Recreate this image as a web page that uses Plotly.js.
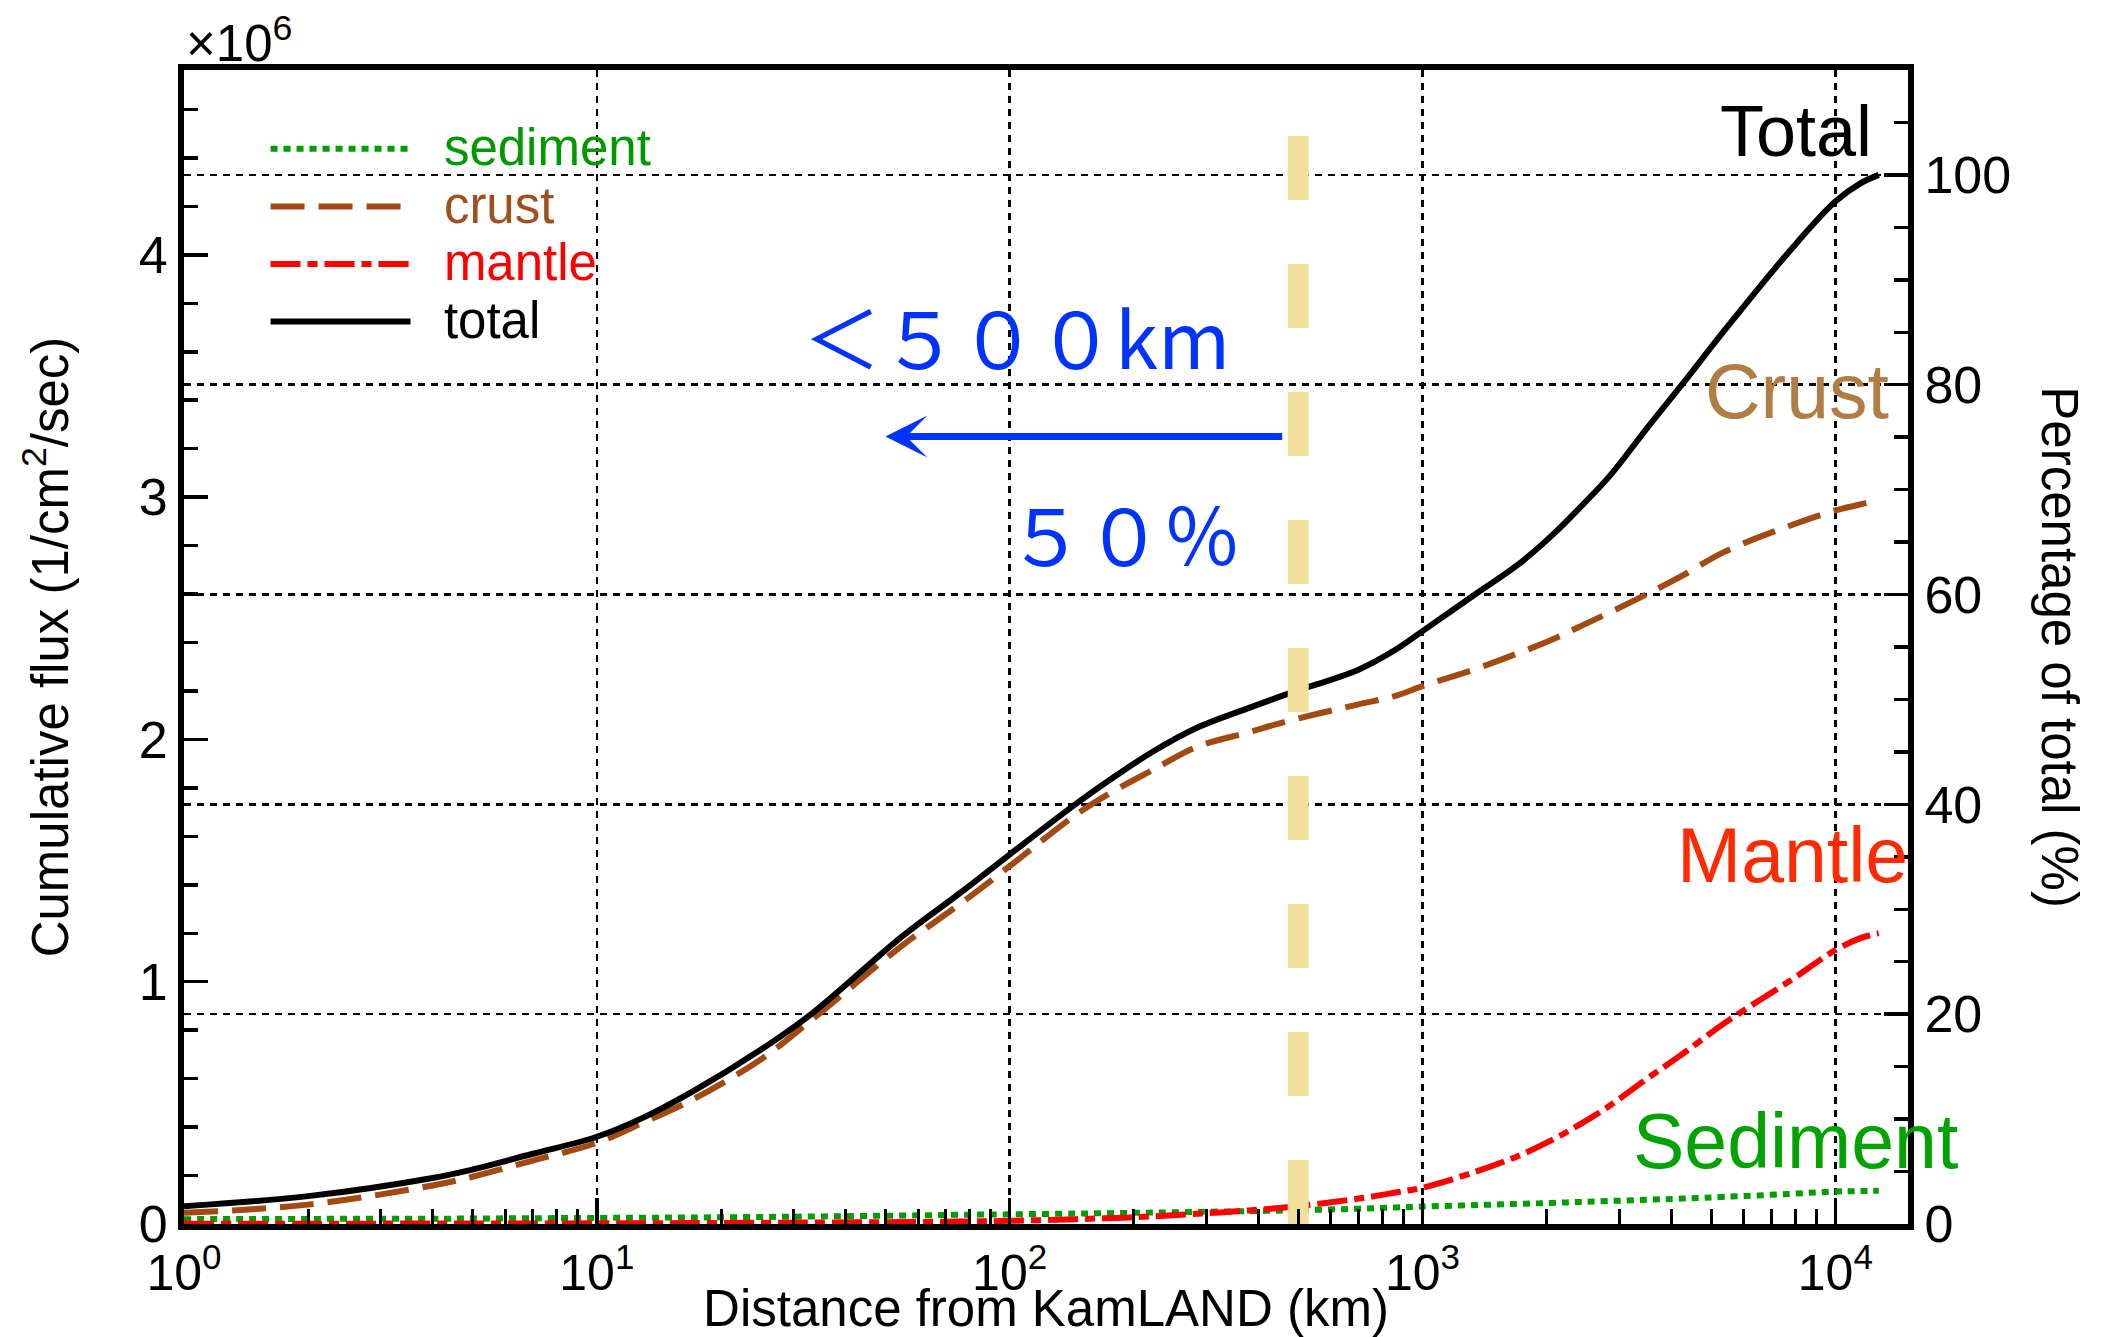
<!DOCTYPE html>
<html>
<head>
<meta charset="utf-8">
<script src="https://cdn.plot.ly/plotly-3.0.1.min.js"></script>
<style>
  html, body { margin: 0; padding: 0; background: #ffffff; }
  #chart { width: 2102px; height: 1337px; }
</style>
</head>
<body>
<div id="chart"></div>
<script>
// Distance from KamLAND (km)
const distance = [1, 2, 4, 5, 7, 10, 13, 17, 25, 33, 55, 75, 100, 145, 180, 220, 285, 380, 475, 700, 860, 1000, 1340, 1700, 2050, 2400, 2850, 3500, 4250, 5400, 7700, 10000, 11500, 12742];

// Cumulative flux (x10^6 1/cm^2/sec)
const sediment = [0.020, 0.021, 0.022, 0.0225, 0.024, 0.025, 0.026, 0.027, 0.029, 0.031, 0.035, 0.038, 0.040, 0.043, 0.045, 0.047, 0.050, 0.053, 0.056, 0.063, 0.068, 0.072, 0.078, 0.083, 0.087, 0.091, 0.095, 0.100, 0.105, 0.112, 0.124, 0.134, 0.136, 0.137];
const crust    = [0.046, 0.080, 0.159, 0.195, 0.262, 0.335, 0.420, 0.512, 0.680, 0.840, 1.150, 1.315, 1.477, 1.690, 1.790, 1.870, 1.970, 2.030, 2.077, 2.145, 2.180, 2.220, 2.290, 2.355, 2.410, 2.465, 2.525, 2.600, 2.675, 2.775, 2.880, 2.945, 2.970, 2.990];
const mantle   = [0.001, 0.001, 0.002, 0.002, 0.002, 0.003, 0.003, 0.004, 0.005, 0.006, 0.008, 0.010, 0.013, 0.020, 0.025, 0.031, 0.042, 0.056, 0.070, 0.105, 0.130, 0.150, 0.215, 0.280, 0.345, 0.410, 0.490, 0.600, 0.700, 0.830, 1.000, 1.130, 1.180, 1.200];
const total    = [0.073, 0.115, 0.190, 0.225, 0.290, 0.360, 0.440, 0.545, 0.720, 0.865, 1.188, 1.360, 1.525, 1.735, 1.848, 1.945, 2.049, 2.130, 2.190, 2.288, 2.370, 2.447, 2.598, 2.720, 2.839, 2.955, 3.090, 3.285, 3.464, 3.690, 4.010, 4.220, 4.295, 4.330];

const SCALE = 1e6;
const totalFlux = 4.33;            // x10^6, = 100 %
const percentMax = 110;            // right axis top
const cutDistance = 500;           // km, vertical marker
const cutTop = 4.50;               // x10^6
const arrowTip = 50;               // km
const arrowTail = 461;             // km
const arrowLevel = 3.25;           // x10^6

const leftTicks = [0, 1, 2, 3, 4];
const rightTicks = [0, 20, 40, 60, 80, 100];
const xDecades = [0, 1, 2, 3, 4];

const scaled = a => a.map(v => v * SCALE);

const FONT = 'Liberation Sans, Arial, Helvetica, sans-serif';
const CJK = 'Noto Sans CJK JP, Noto Sans CJK SC, sans-serif';
const legendName = (label, color) =>
  '<span style="font-size:51px;color:' + color + '">\u00a0\u00a0' + label + '</span>';

const SMOOTH = 1.0;
const traces = [
  { x: distance, y: scaled(sediment), type: 'scatter', mode: 'lines',
    name: legendName('sediment', '#009900'),
    line: { color: '#009F00', width: 6, dash: '7px,6px', shape: 'spline', smoothing: SMOOTH } },
  { x: distance, y: scaled(crust), type: 'scatter', mode: 'lines',
    name: legendName('crust', '#A0501E'),
    line: { color: '#A24A12', width: 6, dash: '34px,14px', shape: 'spline', smoothing: SMOOTH } },
  { x: distance, y: scaled(mantle), type: 'scatter', mode: 'lines',
    name: legendName('mantle', '#FF0000'),
    line: { color: '#FF0000', width: 6, dash: '30px,7px,10px,7px', shape: 'spline', smoothing: SMOOTH } },
  { x: distance, y: scaled(total), type: 'scatter', mode: 'lines',
    name: legendName('total', '#000000'),
    line: { color: '#000000', width: 6, shape: 'spline', smoothing: SMOOTH } },
  { x: [cutDistance, cutDistance], y: [0, cutTop * SCALE], type: 'scatter', mode: 'lines',
    showlegend: false, hoverinfo: 'skip',
    line: { color: '#F0E09A', width: 21, dash: '64px,64px' } },
  // invisible trace to activate the right axis
  { x: [distance[0]], y: [0], yaxis: 'y2', type: 'scatter', mode: 'markers',
    marker: { opacity: 0 }, showlegend: false, hoverinfo: 'skip' }
];

const xMinor = [];
for (let p = 0; p < 5; p++) for (let m = 2; m <= 9; m++) xMinor.push(m * Math.pow(10, p));

const layout = {
  width: 2102, height: 1337,
  paper_bgcolor: '#ffffff', plot_bgcolor: '#ffffff',
  margin: { l: 184, r: 194, t: 70, b: 113 },
  font: { family: FONT, size: 50, color: '#000' },
  showlegend: true,
  legend: {
    x: 0.0473, y: 0.961, xanchor: 'left', yanchor: 'top',
    bgcolor: 'rgba(0,0,0,0)', borderwidth: 0,
    font: { family: FONT, size: 42, color: '#000' },
    itemwidth: 140, tracegroupgap: 0
  },
  xaxis: {
    type: 'log', range: [0, Math.log10(15000)],
    tickmode: 'array',
    tickvals: xDecades.map(p => Math.pow(10, p)),
    ticktext: xDecades.map(p => '10<sup>' + p + '</sup>'),
    tickfont: { family: FONT, size: 50 },
    ticks: 'inside', ticklen: 26, tickwidth: 3.5, tickcolor: '#000',
    minor: { tickmode: 'array', tickvals: xMinor, ticks: 'inside', ticklen: 15, tickwidth: 3, tickcolor: '#000', showgrid: false },
    showline: true, linewidth: 6, linecolor: '#000', mirror: true,
    showgrid: true, gridcolor: '#000', gridwidth: 2.5, griddash: '7px,6px',
    zeroline: false,
    title: { text: 'Distance from KamLAND (km)', font: { family: FONT, size: 51 }, standoff: 4 }
  },
  yaxis: {
    range: [0, totalFlux * percentMax / 100 * SCALE],
    tickmode: 'array',
    tickvals: leftTicks.map(v => v * SCALE),
    ticktext: leftTicks.map(v => String(v)),
    tickfont: { family: FONT, size: 52 },
    ticks: 'inside', ticklen: 24, tickwidth: 3.5, tickcolor: '#000',
    minor: { dtick: 0.2 * SCALE, tick0: 0, ticks: 'inside', ticklen: 14, tickwidth: 3.5, tickcolor: '#000', showgrid: false },
    showline: true, linewidth: 6, linecolor: '#000', mirror: false,
    showgrid: false, zeroline: false,
    title: { text: 'Cumulative flux (1/cm<sup>2</sup>/sec)', font: { family: FONT, size: 51 }, standoff: 56 }
  },
  yaxis2: {
    overlaying: 'y', side: 'right',
    range: [0, percentMax],
    tickmode: 'array', tickvals: rightTicks, ticktext: rightTicks.map(String),
    tickfont: { family: FONT, size: 52 },
    ticks: 'inside', ticklen: 24, tickwidth: 3.5, tickcolor: '#000',
    minor: { dtick: 5, tick0: 0, ticks: 'inside', ticklen: 14, tickwidth: 3.5, tickcolor: '#000', showgrid: false },
    showline: true, linewidth: 6, linecolor: '#000',
    showgrid: true, gridcolor: '#000', gridwidth: 2.5, griddash: '7px,6px',
    zeroline: false
  },
  annotations: [
    { xref: 'paper', yref: 'paper', x: 0, y: 1, xanchor: 'left', yanchor: 'bottom', yshift: -4,
      text: '×10<sup>6</sup>', showarrow: false, font: { family: FONT, size: 51, color: '#000' } },
    { xref: 'paper', yref: 'paper', x: 1.088, y: 0.5, xanchor: 'center', yanchor: 'middle',
      text: 'Percentage of total (%)', textangle: 90, showarrow: false,
      font: { family: FONT, size: 51, color: '#000' } },
    { xref: 'paper', yref: 'paper', x: 0.980, y: 0.947, xanchor: 'right', yanchor: 'middle',
      text: 'Total', showarrow: false, font: { family: FONT, size: 72, color: '#000' } },
    { xref: 'paper', yref: 'paper', x: 0.990, y: 0.722, xanchor: 'right', yanchor: 'middle',
      text: 'Crust', showarrow: false, font: { family: FONT, size: 77, color: '#B07D45' } },
    { xref: 'paper', yref: 'paper', x: 1.001, y: 0.320, xanchor: 'right', yanchor: 'middle',
      text: 'Mantle', showarrow: false, font: { family: FONT, size: 77, color: '#FF2A00' } },
    { xref: 'paper', yref: 'paper', x: 1.030, y: 0.072, xanchor: 'right', yanchor: 'middle',
      text: 'Sediment', showarrow: false, font: { family: FONT, size: 77, color: '#00A300' } },
    { xref: 'paper', yref: 'paper', x: 0.358, y: 0.770, xanchor: 'left', yanchor: 'middle',
      text: '＜５００km', showarrow: false, font: { family: CJK, size: 78, color: '#0033FF' } },
    { xref: 'paper', yref: 'paper', x: 0.6145, y: 0.600, xanchor: 'right', yanchor: 'middle',
      text: '５０％', showarrow: false, font: { family: CJK, size: 78, color: '#0033FF' } },
    { xref: 'x', yref: 'y', axref: 'x', ayref: 'y',
      x: Math.log10(arrowTip), y: arrowLevel * SCALE,
      ax: Math.log10(arrowTail), ay: arrowLevel * SCALE,
      text: '', showarrow: true, arrowhead: 3, arrowsize: 1, arrowwidth: 7, arrowcolor: '#0033FF',
      standoff: 0, startstandoff: 0 }
  ]
};

Plotly.newPlot('chart', traces, layout, { displayModeBar: false, staticPlot: true });
</script>
</body>
</html>
